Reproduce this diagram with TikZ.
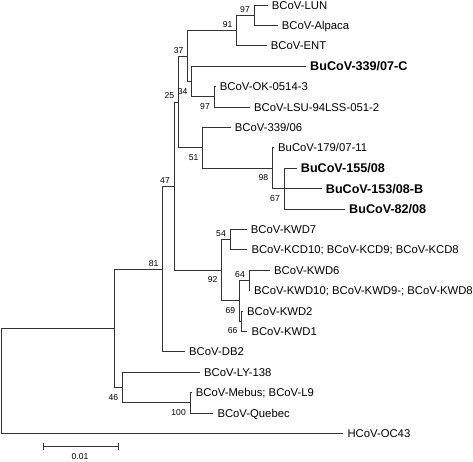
\documentclass[tikz,border=0pt]{standalone}
\usepackage{fontspec}
\setmainfont{Liberation Sans}
\usetikzlibrary{arrows.meta}

\tikzset{
  branch/.style={draw=black!80, line width=0.75pt},
  leaf/.style={anchor=west, inner xsep=4pt, inner ysep=0pt, text height=8.1pt, text depth=0pt,
    font=\fontsize{11.3}{13}\selectfont},
  strain/.style={leaf, text height=9pt, font=\fontsize{12.6}{14}\selectfont\bfseries},
  bsnum/.style={inner sep=0pt, text height=6.2pt, text depth=0pt, font=\fontsize{8.6}{10}\selectfont},
  bsup/.style={bsnum, anchor=east, xshift=-4pt, yshift=6pt},
  bslo/.style={bsnum, anchor=east, xshift=-4pt, yshift=-9.5pt}
}

\begin{document}
\begin{tikzpicture}[x=1pt,y=-1pt]
\useasboundingbox (0,0) rectangle (473,462);

% taxa
\node[leaf] (lun) at (267.7,5) {BCoV-LUN};
\node[leaf] (alpaca) at (277.7,25.4) {BCoV-Alpaca};
\node[leaf] (ent) at (266.7,45.8) {BCoV-ENT};
\node[strain] (bu33907c) at (306,66.2) {BuCoV-339/07-C};
\node[leaf] (ok) at (215.7,86.6) {BCoV-OK-0514-3};
\node[leaf] (lsu) at (250,107) {BCoV-LSU-94LSS-051-2};
\node[leaf] (b33906) at (230.7,127.4) {BCoV-339/06};
\node[leaf] (bu17907) at (274,147.8) {BuCoV-179/07-11};
\node[strain] (bu15508) at (296.7,168.2) {BuCoV-155/08};
\node[strain] (bu15308b) at (321.7,188.6) {BuCoV-153/08-B};
\node[strain] (bu8208) at (345,209) {BuCoV-82/08};
\node[leaf] (kwd7) at (246.7,229.4) {BCoV-KWD7};
\node[leaf] (kcd10) at (247.3,249.8) {BCoV-KCD10; BCoV-KCD9; BCoV-KCD8};
\node[leaf] (kwd6) at (270,270.2) {BCoV-KWD6};
\node[leaf] (kwd10) at (250,290.6) {BCoV-KWD10; BCoV-KWD9-; BCoV-KWD8};
\node[leaf] (kwd2) at (243,311) {BCoV-KWD2};
\node[leaf] (kwd1) at (247.3,331.4) {BCoV-KWD1};
\node[leaf] (db2) at (185,351.8) {BCoV-DB2};
\node[leaf] (ly138) at (200,372.2) {BCoV-LY-138};
\node[leaf] (mebus) at (191.7,392.6) {BCoV-Mebus; BCoV-L9};
\node[leaf] (quebec) at (213.3,413) {BCoV-Quebec};
\node[leaf] (oc43) at (343.3,433.4) {HCoV-OC43};

% internal nodes
\coordinate (n97a) at (254,15.2);
\coordinate (n91) at (236.7,30.5);
\coordinate (n97b) at (214,96.8);
\coordinate (n34) at (191.7,81.5);
\coordinate (n37) at (187.7,56);
\coordinate (n67) at (284,188.6);
\coordinate (n98) at (272.3,168.2);
\coordinate (n51) at (202.7,147.8);
\coordinate (n25) at (178.3,101.9);
\coordinate (n54) at (230,239.6);
\coordinate (n64) at (249,280.4);
\coordinate (n66) at (241.7,321.2);
\coordinate (n69) at (239.3,300.8);
\coordinate (n92) at (221.7,270.2);
\coordinate (n47) at (174,186.05);
\coordinate (n81) at (162.7,268.9);
\coordinate (n100) at (190,402.8);
\coordinate (n46) at (122.3,387.5);
\coordinate (nin) at (114.3,328.2);
\coordinate (root) at (1,380.8);

% branches
\foreach \p/\c in {n97a/lun.west, n97a/alpaca.west, n91/n97a, n91/ent.west,
    n97b/ok.west, n97b/lsu.west, n34/bu33907c.west, n34/n97b, n37/n91, n37/n34,
    n67/bu15508.west, n67/bu15308b.west, n67/bu8208.west, n98/bu17907.west, n98/n67,
    n51/b33906.west, n51/n98, n25/n37, n25/n51,
    n54/kwd7.west, n54/kcd10.west, n64/kwd6.west, n64/kwd10.west,
    n66/kwd2.west, n66/kwd1.west, n69/n64, n69/n66, n92/n54, n92/n69,
    n47/n25, n47/n92, n81/n47, n81/db2.west,
    n100/mebus.west, n100/quebec.west, n46/ly138.west, n46/n100,
    nin/n81, nin/n46, root/nin, root/oc43.west}
  \draw[branch] (\p) |- (\c);

% bootstrap values
\node[bsup] (b97a) at (n97a) {97};
\node[bsup] (b91) at (n91) {91};
\node[bsup] (b37) at (n37) {37};
\node[bslo] (b34) at (n34) {34};
\node[bslo] (b97b) at (n97b) {97};
\node[bsup] (b25) at (n25) {25};
\node[bslo] (b51) at (n51) {51};
\node[bslo] (b98) at (n98) {98};
\node[bslo] (b67) at (n67) {67};
\node[bsup] (b47) at (n47) {47};
\node[bsup] (b81) at (n81) {81};
\node[bsup] (b54) at (n54) {54};
\node[bslo] (b92) at (n92) {92};
\node[bsup] (b64) at (n64) {64};
\node[bslo] (b69) at (n69) {69};
\node[bslo] (b66) at (n66) {66};
\node[bslo] (b46) at (n46) {46};
\node[bslo] (b100) at (n100) {100};

% scale bar
\coordinate (sbl) at (43.3,446.7);
\coordinate (sbr) at (119,446.7);
\draw[branch, line width=1.1pt, {Bar[width=6.6pt]}-{Bar[width=6.6pt]}] (sbl) -- (sbr);
\node[bsnum] (sblab) at (80,456.5) {0.01};
\end{tikzpicture}
\end{document}
